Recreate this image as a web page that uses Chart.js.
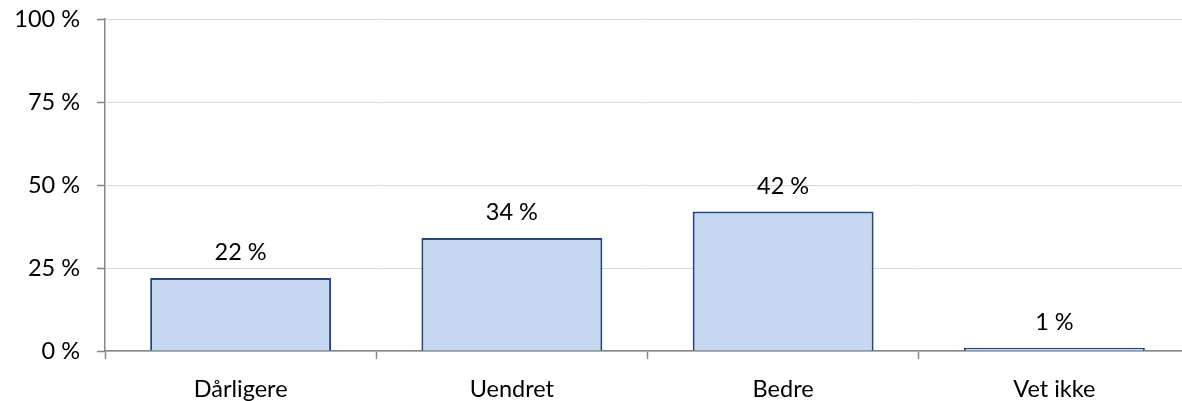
<!DOCTYPE html>
<html>
<head>
<meta charset="utf-8">
<script src="https://cdn.jsdelivr.net/npm/chart.js@4.4.1/dist/chart.umd.min.js"></script>
<style>
  html, body { margin: 0; padding: 0; background: #fff; overflow: hidden; }
  #wrap { position: relative; width: 1190px; height: 401px; }
</style>
</head>
<body>
<div id="wrap"><canvas id="c"></canvas></div>
<script>
const categories = ['Dårligere', 'Uendret', 'Bedre', 'Vet ikke'];
const values = [22, 34, 42, 1];
const yTicks = [0, 25, 50, 75, 100];

const FONT = 'Lato, "Open Sans", sans-serif';
const FSIZE = 23.5;

const dataLabels = {
  id: 'dataLabels',
  afterDatasetsDraw(chart) {
    const ctx = chart.ctx;
    const meta = chart.getDatasetMeta(0);
    ctx.save();
    ctx.font = FSIZE + 'px ' + FONT;
    ctx.fillStyle = '#000';
    ctx.textAlign = 'center';
    ctx.textBaseline = 'alphabetic';
    meta.data.forEach((bar, i) => {
      ctx.fillText(values[i] + ' %', bar.x, bar.y - 18);
    });
    ctx.restore();
  }
};

new Chart(document.getElementById('c'), {
  type: 'bar',
  data: {
    labels: categories,
    datasets: [{
      data: values,
      backgroundColor: '#C6D9F1',
      borderColor: '#1F497D',
      borderWidth: 2,
      barPercentage: 0.667,
      categoryPercentage: 1.0
    }]
  },
  options: {
    responsive: true,
    maintainAspectRatio: false,
    animation: false,
    layout: { padding: { top: 19, right: 0, bottom: 0, left: 0 } },
    plugins: {
      legend: { display: false },
      tooltip: { enabled: false }
    },
    scales: {
      x: {
        grid: {
          drawOnChartArea: false,
          drawTicks: true,
          tickLength: 8,
          tickColor: '#868686',
          tickWidth: 1.5
        },
        border: { color: '#868686', width: 1.5 },
        ticks: {
          color: '#000',
          font: { family: FONT, size: FSIZE },
          padding: 16,
          maxRotation: 0
        },
        afterFit(scale) {
          scale.height = 50;
          scale.paddingLeft = 0; scale.paddingRight = 0;
          scale.paddingTop = 0; scale.paddingBottom = 0;
        }
      },
      y: {
        min: 0,
        max: 100,
        afterBuildTicks(scale) { scale.ticks = yTicks.map(v => ({ value: v })); },
        grid: {
          color: '#D9D9D9',
          lineWidth: 1,
          drawTicks: true,
          tickLength: 8,
          tickColor: '#868686',
          tickWidth: 1.5
        },
        border: { color: '#868686', width: 1.5 },
        ticks: {
          color: '#000',
          font: { family: FONT, size: FSIZE },
          padding: 17,
          callback: (v) => v + ' %'
        },
        afterFit(scale) {
          scale.width = 105;
          scale.paddingLeft = 0; scale.paddingRight = 0;
          scale.paddingTop = 0; scale.paddingBottom = 0;
        }
      }
    }
  },
  plugins: [dataLabels]
});
</script>
</body>
</html>
